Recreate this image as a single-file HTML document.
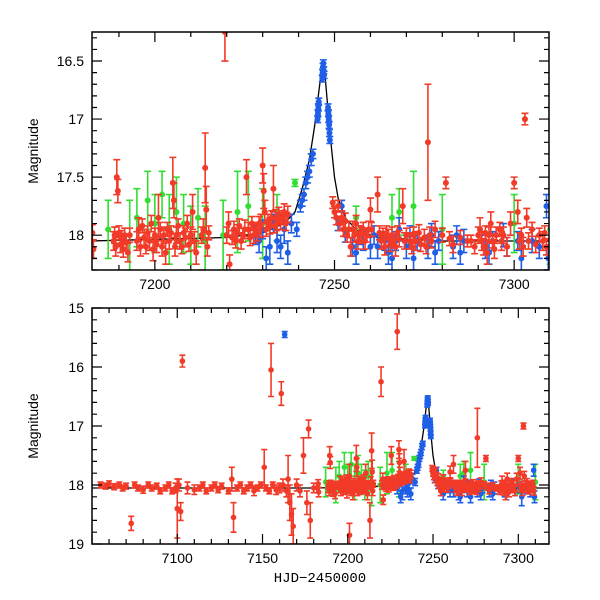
<!DOCTYPE html>
<html><head><meta charset="utf-8"><style>
html,body{margin:0;padding:0;background:#fff;}
svg{display:block;font-family:"Liberation Sans",sans-serif;}
</style></head><body>
<svg id="chart" width="600" height="600" viewBox="0 0 600 600">
<defs>
<clipPath id="clipTop"><rect x="92" y="32" width="457" height="238"/></clipPath>
<clipPath id="clipBot"><rect x="92" y="308" width="457" height="236"/></clipPath>
</defs>
</svg>
<script>
const redData = "7182.3 18.05 .08;7182.6 17.98 .07;7182.9 18.12 .08;7188.5 18.05 .08;7188.8 18.0 .07;7189.1 18.1 .08;7189.4 17.5 .15;7189.7 17.62 .1;7190.0 17.98 .06;7190.4 18.08 .07;7190.8 18.02 .06;7191.2 18.12 .07;7191.6 18.0 .06;7192 18.06 .07;7192.5 18.15 .08;7193 18.0 .06;7195 18.05 .08;7195.5 17.95 .1;7196 18.1 .08;7196.5 17.92 .06;7197 18.02 .07;7197.5 18.1 .06;7198 17.98 .06;7198.5 18.05 .08;7199 17.9 .07;7199.5 18.12 .1;7200 18.0 .06;7200.5 18.08 .07;7201 17.85 .2;7201.5 17.95 .06;7202 18.1 .08;7202.5 18.0 .07;7203 18.15 .1;7203.5 17.95 .06;7204 18.05 .07;7204.5 17.98 .06;7205 17.55 .22;7205.3 17.7 .15;7205.6 18.1 .08;7206 18.0 .07;7206.5 17.92 .06;7207 18.05 .07;7207.5 18.1 .06;7208 17.98 .06;7208.5 18.02 .08;7209 17.9 .07;7209.5 18.08 .06;7210 18.0 .07;7210.5 17.8 .15;7211 18.05 .08;7211.5 18.15 .1;7213 18.0 .07;7213.5 17.95 .09;7214 17.42 .3;7214.3 17.78 .2;7214.6 18.1 .08;7215 17.98 .06;7220 18.0 .07;7220.5 17.9 .1;7220.8 18.25 .08;7219.5 16.25 .25;7221.5 18.02 .06;7222 17.95 .07;7222.5 18.05 .06;7223 17.98 .07;7223.5 17.92 .06;7224 18.05 .07;7224.5 18.0 .06;7225 17.95 .08;7225.5 17.5 .15;7226 17.95 .06;7226.5 18.02 .07;7227 17.9 .06;7227.5 18.0 .07;7228 17.95 .06;7228.5 17.98 .07;7229 17.9 .06;7229.5 17.92 .1;7230 17.4 .15;7230.3 17.62 .15;7230.6 17.8 .1;7231 17.95 .06;7231.5 17.88 .06;7232 17.92 .07;7232.5 17.85 .06;7233 17.6 .2;7233.3 17.92 .06;7233.6 17.85 .07;7234 17.9 .06;7234.5 17.82 .06;7235 17.88 .07;7235.5 17.85 .06;7236 17.8 .07;7236.5 17.9 .06;7237 17.82 .07;7249.5 17.72 .05;7250 17.8 .05;7250.5 17.85 .06;7251 17.75 .05;7251.5 17.9 .06;7252 17.85 .06;7252.5 17.95 .06;7253 17.88 .07;7253.5 18.0 .06;7254 17.95 .07;7254.5 18.1 .08;7255 17.95 .07;7255.5 18.0 .06;7256 17.9 .07;7256.5 18.05 .07;7257 17.98 .06;7257.5 18.0 .07;7258 17.95 .06;7258.5 18.05 .07;7259 18.0 .06;7259.5 17.95 .07;7260 17.78 .1;7260.3 17.95 .06;7262 17.65 .15;7262.5 17.98 .06;7263 18.05 .07;7263.5 18.0 .06;7264 18.1 .07;7264.5 17.98 .06;7265 18.02 .07;7265.5 18.08 .06;7266 18.0 .07;7266.5 18.05 .06;7267 18.1 .08;7267.5 17.98 .06;7268 18.03 .07;7269 17.75 .15;7269.5 18.05 .07;7270 18.0 .06;7271 18.05 .07;7271.5 18.1 .06;7272 18.0 .07;7272.5 18.05 .08;7273.5 17.98 .07;7274 18.08 .06;7275 18.02 .07;7275.5 18.1 .06;7276 17.2 .5;7276.5 18.0 .07;7277 18.05 .06;7278 17.95 .07;7280 18.0 .06;7281 17.55 .05;7282 18.03 .06;7283 18.08 .07;7285 18.02 .06;7287 18.05 .05;7288 18.05 .05;7289 18.1 .06;7290 18.0 .07;7290.5 17.95 .1;7291 18.05 .08;7291.5 18.1 .07;7292 17.98 .06;7292.5 18.15 .1;7293 18.0 .07;7293.5 17.9 .1;7294 18.05 .06;7294.5 18.12 .08;7295 18.0 .07;7296 17.95 .06;7296.5 18.05 .08;7297 18.0 .07;7298 18.1 .08;7299 17.9 .1;7300 17.55 .05;7301 17.8 .1;7301.5 18.05 .07;7302 18.0 .06;7302.5 18.1 .08;7303 17.0 .05;7303.5 17.85 .08;7304 18.05 .07;7305 17.95 .06;7306 18.08 .07;7307 18.0 .06;7308 18.05 .08;7308.5 17.98 .06;7309 18.1 .07;7055 18.0 .05;7058 18.02 .05;7060 17.98 .05;7063 18.03 .05;7066 18.0 .05;7068 18.05 .05;7070 18.02 .05;7073 18.65 .12;7075 18.0 .05;7077 18.05 .05;7080 18.08 .06;7083 18.0 .05;7085 18.05 .05;7088 18.02 .05;7090 18.1 .05;7093 18.05 .05;7095 18.0 .05;7097 18.1 .05;7099 18.05 .08;7100 18.4 .5;7101 18.0 .1;7102 18.45 .15;7103 15.9 .1;7106 18.05 .1;7110 18.08 .08;7113 18.05 .05;7115 18.0 .05;7117 18.1 .05;7120 18.05 .05;7122 18.0 .05;7124 18.08 .05;7126 18.02 .05;7130 18.1 .05;7132 17.9 .2;7133 18.55 .25;7135 18.05 .05;7137 18.0 .05;7139 18.1 .05;7141 18.05 .05;7143 18.0 .05;7145 18.1 .08;7147 18.05 .05;7149 18.0 .05;7151 17.7 .3;7152 18.05 .05;7154 18.1 .05;7155 16.05 .45;7156 18.0 .05;7158 18.08 .08;7160 18.05 .08;7161 16.45 .2;7162 18.0 .1;7164 18.1 .1;7165 17.9 .4;7166 18.3 .3;7167 18.5 .35;7168 18.7 .3;7170 18.0 .1;7172 18.1 .1;7174 17.5 .3;7176 18.3 .2;7177 17.05 .15;7178 18.6 .3;7180 18.05 .08;7201 18.85 .2;7213 18.6 .3;7229 15.4 .3";
const blueData = "7163 15.45 .05;7228 18.0 .08;7229 18.05 .1;7230 17.95 .08;7231 18.2 .1;7232 18.1 .15;7233 17.9 .08;7234 18.05 .1;7235 18.1 .1;7236 17.95 .12;7237 18.15 .1;7238 17.9 .08;7239.5 17.95 .06;7240.5 17.75 .05;7241 17.7 .05;7241.5 17.65 .05;7242 17.55 .05;7242.5 17.5 .05;7243 17.45 .05;7243.5 17.35 .05;7244 17.3 .04;7245.3 17.0 .03;7245.4 16.95 .03;7245.5 16.9 .03;7245.6 16.85 .03;7246.6 16.65 .03;7246.7 16.6 .03;7246.8 16.55 .03;7246.9 16.52 .03;7247 16.58 .03;7247.1 16.62 .03;7248.2 16.9 .03;7248.3 16.95 .03;7248.4 17.0 .03;7248.5 17.05 .03;7248.6 17.12 .03;7248.7 17.18 .03;7251 17.9 .06;7252 17.75 .05;7253 18.0 .06;7255 18.1 .08;7256 18.15 .1;7257 18.0 .08;7258 18.05 .08;7260 18.1 .1;7261 18.0 .08;7262 18.1 .1;7264 18.05 .08;7265 18.15 .1;7266 18.2 .1;7267 18.05 .08;7268 17.95 .1;7270 18.1 .1;7271 18.0 .08;7272 18.2 .1;7273 18.05 .08;7276 18.1 .1;7277 18.0 .1;7278 18.15 .1;7279 18.05 .08;7283 18.1 .1;7284 18.0 .08;7285 18.15 .1;7286 18.05 .1;7292 18.1 .1;7293 18.15 .1;7294 18.05 .08;7297 18.0 .1;7298 18.1 .08;7301 18.05 .08;7302 18.2 .15;7305 18.05 .1;7307 18.1 .1;7309 17.75 .1;7309.5 18.2 .1";
const greenData = "7187 17.95 .25;7193 18.0 .3;7195 17.85 .25;7198 17.7 .25;7200 17.9 .25;7202 17.65 .2;7204 17.95 .3;7206 17.8 .3;7208 17.9 .25;7210 18.0 .25;7212 17.85 .25;7214 18.05 .3;7219 18.0 .3;7223 17.8 .35;7226 17.75 .3;7230 17.9 .3;7234 17.85 .2;7239 17.55 .03;7250 17.8 .05;7253 17.95 .06;7256 17.85 .1;7266 17.85 .2;7268 17.8 .2;7272 17.75 .3;7280 17.95 .3;7300 17.9 .25;7310 17.95 .3";
const modelT = [7050,7182,7220,7230,7236,7239,7241,7243,7244.5,7245.5,7246.3,7246.8,7247.3,7248,7249,7250,7251,7253,7256,7262,7280,7320];
const modelM = [18.05,18.05,18.02,17.98,17.9,17.8,17.6,17.35,17.05,16.8,16.6,16.52,16.6,16.85,17.2,17.5,17.68,17.85,17.95,18.02,18.05,18.05];
const topXTicks = [7200,7250,7300];
const topYTicks = ["16.5","17","17.5","18"];
const botXTicks = [7100,7150,7200,7250,7300];
const botYTicks = ["15","16","17","18","19"];

const NS="http://www.w3.org/2000/svg";
const svg=document.getElementById('chart');
function mk(tag,attrs,parent){const e=document.createElementNS(NS,tag);for(const k in attrs)e.setAttribute(k,attrs[k]);(parent||svg).appendChild(e);return e;}
function parse(s){return s.split(';').map(r=>r.trim().split(/\s+/).map(Number));}
const series=[{d:parse(greenData),c:'#33dd33',n:'green'},{d:parse(blueData),c:'#1f5fe8',n:'blue'},{d:parse(redData),c:'#f23a28',n:'red'}];

const panels=[
 {id:'top',x0:92,x1:549,y0:32,y1:270,tmin:7182.5,tmax:7309.7,mtop:16.25,mbot:18.3,xt:topXTicks,xminor:10,yt:topYTicks,yminor:0.1,clip:'clipTop',r:3,cw:3.5},
 {id:'bottom',x0:92,x1:549,y0:308,y1:544,tmin:7050,tmax:7318,mtop:15,mbot:19,xt:botXTicks,xminor:10,yt:botYTicks,yminor:0.2,clip:'clipBot',r:2.8,cw:3}
];
panels.forEach(p=>{
 const X=t=>p.x0+(t-p.tmin)/(p.tmax-p.tmin)*(p.x1-p.x0);
 const Y=m=>p.y0+(m-p.mtop)/(p.mbot-p.mtop)*(p.y1-p.y0);
 const g=mk('g',{'clip-path':'url(#'+p.clip+')'});
 
 
 let d='';modelT.forEach((t,i)=>{d+=(i?'L':'M')+X(t).toFixed(1)+' '+Y(modelM[i]).toFixed(1);});
 const ml=mk('path',{d:d,fill:'none',stroke:'#000','stroke-width':1.3},g);
 
 
 series.forEach(s=>{
  const sg=mk('g',{stroke:s.c,fill:s.c,'stroke-width':1.6},g);
  
  
  s.d.forEach(([t,m,e])=>{
   const x=X(t),ya=Y(m-e),yb=Y(m+e),y=Y(m),w=p.cw;
   mk('path',{d:`M${x} ${ya}V${yb}M${x-w} ${ya}h${2*w}M${x-w} ${yb}h${2*w}`,fill:'none'},sg);
   const c=mk('circle',{cx:x,cy:y,r:p.r,stroke:'none'},sg);
   
   
  });
 });
 const fr=mk('rect',{x:p.x0,y:p.y0,width:p.x1-p.x0,height:p.y1-p.y0,fill:'none',stroke:'#000','stroke-width':1.5});
 
 
 const ax=mk('g',{stroke:'#000','stroke-width':1.2});
 
 
 for(let t=Math.ceil(p.tmin/p.xminor)*p.xminor;t<=p.tmax;t+=p.xminor){
  const x=X(t),L=(t%50===0)?10:5;
  mk('path',{d:`M${x} ${p.y1}v${-L}M${x} ${p.y0}v${L}`},ax);
 }
 const yStart=Math.ceil(p.mtop/p.yminor-1e-6);
 for(let k=yStart;k*p.yminor<=p.mbot+1e-6;k++){
  const m=k*p.yminor,y=Y(m);
  const maj=p.yt.some(v=>Math.abs(+v-m)<1e-6);const L=maj?10:5;
  mk('path',{d:`M${p.x0} ${y}h${L}M${p.x1} ${y}h${-L}`},ax);
 }
 p.xt.forEach(t=>{const tx=mk('text',{x:X(t),y:p.y1+19,'text-anchor':'middle','font-size':14});tx.textContent=t;
  });
 p.yt.forEach(v=>{const tx=mk('text',{x:p.x0-8,y:Y(+v)+5,'text-anchor':'end','font-size':14});tx.textContent=v;
  });
 const yt=mk('text',{x:0,y:0,transform:`translate(38 ${(p.y0+p.y1)/2}) rotate(-90)`,'text-anchor':'middle','font-size':14});
 yt.textContent='Magnitude';
 
 
});
const xt=mk('text',{x:320,y:582,'text-anchor':'middle','font-size':14,'font-family':'Liberation Mono, monospace'});
xt.textContent='HJD−2450000';


</script>
</body></html>
